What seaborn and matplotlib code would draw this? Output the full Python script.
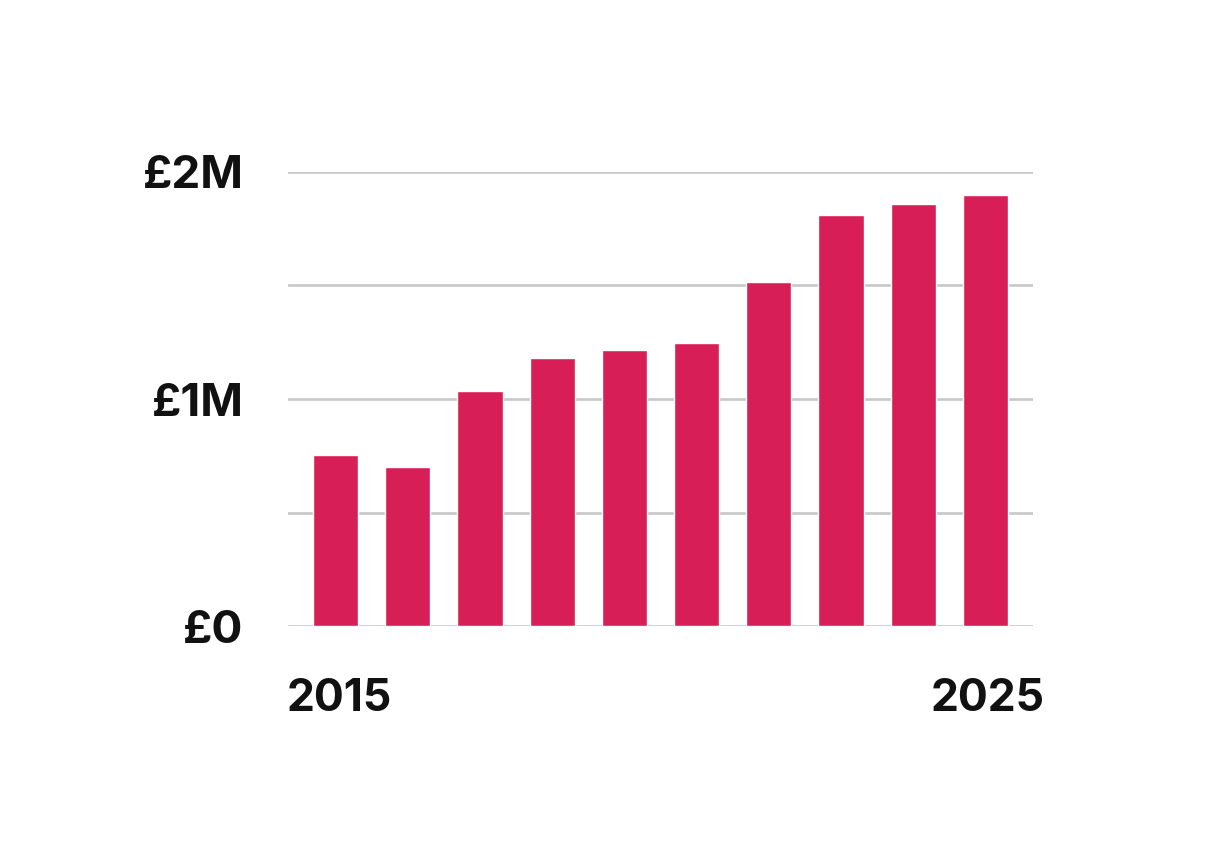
import matplotlib
matplotlib.use("Agg")
import matplotlib.pyplot as plt
import pandas as pd
import seaborn as sns

# Data (values in £ millions)
years = [str(y) for y in range(2015, 2025)]
values = [0.753, 0.700, 1.035, 1.181, 1.216, 1.247, 1.515, 1.811, 1.859, 1.899]
ytick_vals = [0, 0.5, 1.0, 1.5, 2.0]
ytick_labels = ["£0", "", "£1M", "", "£2M"]
edge_labels = ["2015", "2025"]

BAR_COLOR = "#D81E56"
GRID_COLOR = "#C8C8C8"
TEXT_COLOR = "#111111"

sns.set_style("white")
plt.rcParams["font.family"] = ["Inter", "DejaVu Sans"]

df = pd.DataFrame({"year": years, "value": values})

fig = plt.figure(figsize=(12.13, 8.47), dpi=100)
ax = fig.add_axes([288 / 1213, 1 - 626 / 847, 745 / 1213, 454 / 847])

for v in ytick_vals:
    ax.axhline(v, color=GRID_COLOR, lw=1.9, zorder=0)

sns.barplot(data=df, x="year", y="value", color=BAR_COLOR, width=0.625,
            saturation=1, ax=ax, zorder=2)

ax.set_xlim(-0.66, len(years) - 1 + 0.66)
ax.set_ylim(0, 2.0)
ax.set_yticks(ytick_vals)
ax.set_yticklabels(ytick_labels, fontsize=33, fontweight="bold", color=TEXT_COLOR)
ax.tick_params(axis="y", length=0, pad=32)
ax.set_xticks([])
ax.set_xlabel("")
ax.set_ylabel("")
sns.despine(ax=ax, left=True, bottom=True)

ax.text(-0.002, -0.187, edge_labels[0], transform=ax.transAxes, ha="left",
        va="baseline", fontsize=32, fontweight="bold", color=TEXT_COLOR)
ax.text(1.016, -0.187, edge_labels[1], transform=ax.transAxes, ha="right",
        va="baseline", fontsize=32, fontweight="bold", color=TEXT_COLOR)

fig.savefig("out.png", dpi=100)
